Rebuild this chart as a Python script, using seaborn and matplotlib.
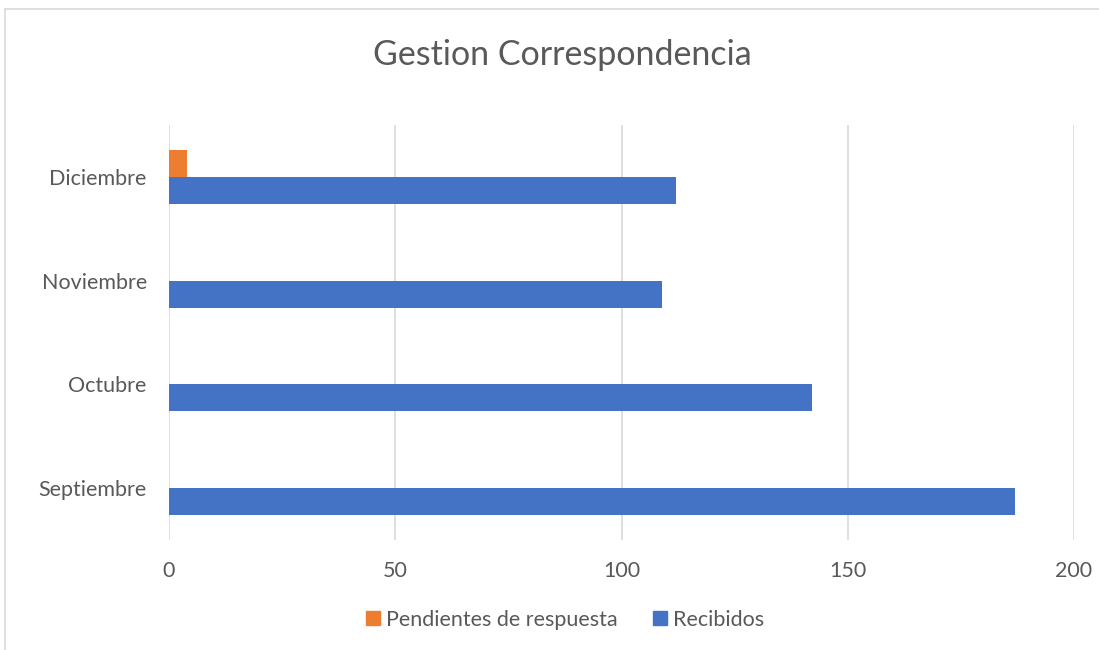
import pandas as pd
import seaborn as sns
import matplotlib.pyplot as plt
from matplotlib.lines import Line2D

meses = ["Diciembre", "Noviembre", "Octubre", "Septiembre"]
pendientes = [4, 0, 0, 0]
recibidos = [112, 109, 142, 187]
series = ["Pendientes de respuesta", "Recibidos"]
colores = ["#ED7D31", "#4472C4"]
ticks_x = [0, 50, 100, 150, 200]

df = pd.DataFrame({
    "mes": meses * 2,
    "valor": pendientes + recibidos,
    "serie": [series[0]] * len(meses) + [series[1]] * len(meses),
})

sns.set_style("white")
plt.rcParams["font.family"] = ["Lato", "DejaVu Sans"]

fig = plt.figure(figsize=(10.99, 6.5), dpi=100)
ax = fig.add_axes([169 / 1099, 1 - 540 / 650, (1074 - 169) / 1099, 415 / 650])

sns.barplot(data=df, y="mes", x="valor", hue="serie", order=meses,
            hue_order=series, palette=colores, orient="h", width=0.52,
            gap=0, saturation=1, linewidth=0, edgecolor="none",
            ax=ax, legend=False)

ax.set_xlim(0, 200)
ax.set_ylim(3.5, -0.5)
ax.set_xticks(ticks_x)
ax.set_xlabel("")
ax.set_ylabel("")
ax.grid(axis="x", color="#d9d9d9", linewidth=1.2)
ax.set_axisbelow(True)
for s in ax.spines.values():
    s.set_visible(False)
ax.tick_params(axis="both", length=0, labelsize=15.5, colors="#595959")
ax.tick_params(axis="y", pad=16)
ax.tick_params(axis="x", pad=15)

fig.text(0.512, 1 - 55 / 650, "Gestion Correspondencia", ha="center",
         va="center", fontsize=24.5, color="#595959")

handles = [Line2D([], [], marker="s", linestyle="", markersize=10,
                  markerfacecolor=c, markeredgecolor=c) for c in colores]
fig.legend(handles, series, loc="center", bbox_to_anchor=(0.513, 1 - 620 / 650),
           ncol=2, frameon=False, fontsize=15.5, labelcolor="#595959",
           handlelength=0.9, handletextpad=0.15, columnspacing=1.5)

# chart border
fig.add_artist(Line2D([5 / 1099, 1], [1 - 9 / 650] * 2, color="#d9d9d9", lw=1.2))
fig.add_artist(Line2D([5 / 1099] * 2, [0, 1 - 9 / 650], color="#d9d9d9", lw=1.2))

fig.savefig("out.png", dpi=100)
